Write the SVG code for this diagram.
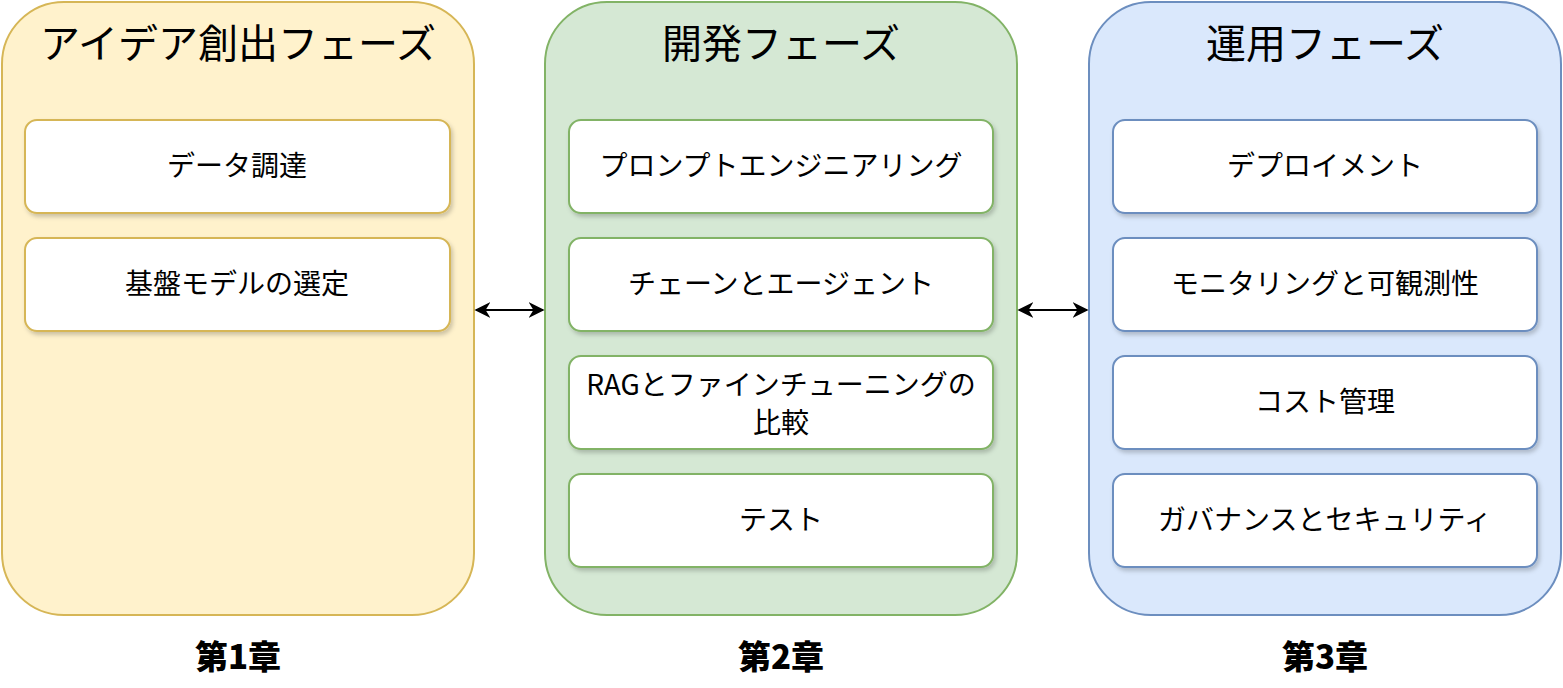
<svg xmlns="http://www.w3.org/2000/svg" width="1563" height="688" viewBox="0 0 1563 688">
<defs>
<filter id="sh" x="-10%" y="-10%" width="130%" height="140%"><feDropShadow dx="2" dy="3" stdDeviation="2" flood-color="#000" flood-opacity="0.2"/></filter>
<marker id="ah" viewBox="0 0 10 10" refX="9" refY="5" markerWidth="8" markerHeight="8" orient="auto-start-reverse"><path d="M0,0 L10,5 L0,10 L3,5 z" fill="#000"/></marker>
</defs>
<style>
text{font-family:"Noto Sans CJK JP","Noto Sans",sans-serif;fill:#000;text-anchor:middle}
.t{font-size:40px}
.b{font-size:28px}
.c{font-size:33px;font-weight:900}
.box{fill:#fff;stroke-width:2;filter:url(#sh)}
.y .box{stroke:#d6b656}.g .box{stroke:#82b366}.bl .box{stroke:#6c8ebf}
</style>
<rect width="1563" height="688" fill="#fff"/>
<g id="phase1" class="y">
<rect x="2" y="2" width="472" height="613" rx="62" fill="#fff2cc" stroke="#d6b656" stroke-width="2"/>
<text class="t" x="238" y="58">アイデア創出フェーズ</text>
<g id="n1a"><rect class="box" x="25" y="120" width="425" height="93" rx="12"/><text class="b" x="237" y="176">データ調達</text></g>
<g id="n1b"><rect class="box" x="25" y="238" width="425" height="93" rx="12"/><text class="b" x="237" y="294">基盤モデルの選定</text></g>
</g>
<g id="phase2" class="g">
<rect x="545" y="2" width="472" height="613" rx="62" fill="#d5e8d4" stroke="#82b366" stroke-width="2"/>
<text class="t" x="781" y="58">開発フェーズ</text>
<g id="n2a"><rect class="box" x="569" y="120" width="424" height="93" rx="12"/><text class="b" x="781" y="176">プロンプトエンジニアリング</text></g>
<g id="n2b"><rect class="box" x="569" y="238" width="424" height="93" rx="12"/><text class="b" x="781" y="294">チェーンとエージェント</text></g>
<g id="n2c"><rect class="box" x="569" y="356" width="424" height="93" rx="12"/><text class="b" x="781" y="395">RAGとファインチューニングの</text><text class="b" x="781" y="433">比較</text></g>
<g id="n2d"><rect class="box" x="569" y="474" width="424" height="93" rx="12"/><text class="b" x="781" y="530">テスト</text></g>
</g>
<g id="phase3" class="bl">
<rect x="1089" y="2" width="472" height="613" rx="62" fill="#dae8fc" stroke="#6c8ebf" stroke-width="2"/>
<text class="t" x="1325" y="58">運用フェーズ</text>
<g id="n3a"><rect class="box" x="1113" y="120" width="424" height="93" rx="12"/><text class="b" x="1325" y="176">デプロイメント</text></g>
<g id="n3b"><rect class="box" x="1113" y="238" width="424" height="93" rx="12"/><text class="b" x="1325" y="294">モニタリングと可観測性</text></g>
<g id="n3c"><rect class="box" x="1113" y="356" width="424" height="93" rx="12"/><text class="b" x="1325" y="412">コスト管理</text></g>
<g id="n3d"><rect class="box" x="1113" y="474" width="424" height="93" rx="12"/><text class="b" x="1325" y="530">ガバナンスとセキュリティ</text></g>
</g>
<g id="connectors" stroke="#000" stroke-width="2">
<line x1="476" y1="310" x2="543" y2="310" marker-start="url(#ah)" marker-end="url(#ah)"/>
<line x1="1019" y1="310" x2="1087" y2="310" marker-start="url(#ah)" marker-end="url(#ah)"/>
</g>
<text class="c" x="238" y="669">第1章</text>
<text class="c" x="781" y="669">第2章</text>
<text class="c" x="1325" y="669">第3章</text>
</svg>
